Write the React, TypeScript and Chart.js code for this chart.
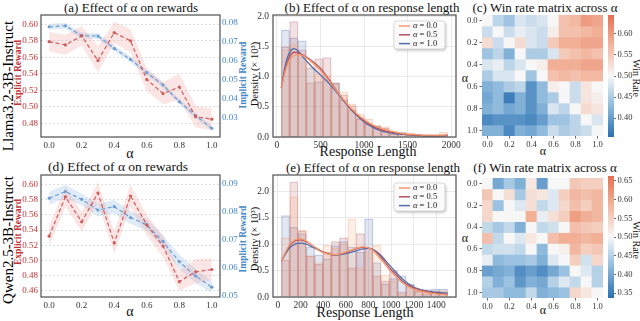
import React, { useEffect, useRef } from 'react';
import { Chart, registerables } from 'chart.js';

Chart.register(...registerables);

const SERIF = '"Liberation Serif", "Times New Roman", "DejaVu Serif", serif';
Chart.defaults.font.family = SERIF;
Chart.defaults.color = '#333';

// ---------------- data ----------------
const alphas = [0, 0.1, 0.2, 0.3, 0.4, 0.5, 0.6, 0.7, 0.8, 0.9, 1.0];
const alphaLabels = ['0.0', '0.1', '0.2', '0.3', '0.4', '0.5', '0.6', '0.7', '0.8', '0.9', '1.0'];
const alphaTickValues = [0, 0.2, 0.4, 0.6, 0.8, 1.0];

// (a) Llama rewards
const llamaExplicit = [0.579, 0.575, 0.586, 0.556, 0.590, 0.580, 0.533, 0.516, 0.524, 0.488, 0.485];
const llamaExplicitUpper = [0.591, 0.587, 0.598, 0.573, 0.603, 0.594, 0.547, 0.530, 0.540, 0.501, 0.498];
const llamaExplicitLower = [0.567, 0.563, 0.574, 0.542, 0.577, 0.566, 0.519, 0.503, 0.509, 0.475, 0.472];
const llamaImplicit = [0.0779, 0.0784, 0.0732, 0.0730, 0.0665, 0.0607, 0.0537, 0.0472, 0.0384, 0.0311, 0.0244];
const llamaImplicitUpper = [0.0795, 0.0799, 0.0748, 0.0746, 0.0680, 0.0622, 0.0552, 0.0487, 0.0398, 0.0325, 0.0258];
const llamaImplicitLower = [0.0763, 0.0769, 0.0716, 0.0714, 0.0650, 0.0592, 0.0522, 0.0457, 0.0370, 0.0297, 0.0230];
const llamaExplicitTicks = [0.48, 0.50, 0.52, 0.54, 0.56, 0.58, 0.60];
const llamaImplicitTicks = [0.03, 0.04, 0.05, 0.06, 0.07, 0.08];

// (d) Qwen rewards
const qwenExplicit = [0.532, 0.584, 0.551, 0.589, 0.523, 0.585, 0.547, 0.519, 0.472, 0.485, 0.488];
const qwenExplicitUpper = [0.545, 0.597, 0.564, 0.603, 0.538, 0.600, 0.560, 0.533, 0.486, 0.502, 0.503];
const qwenExplicitLower = [0.519, 0.571, 0.538, 0.576, 0.509, 0.571, 0.533, 0.504, 0.460, 0.470, 0.474];
const qwenImplicit = [0.0849, 0.0873, 0.0845, 0.0807, 0.0819, 0.0780, 0.0754, 0.0694, 0.0622, 0.0571, 0.0531];
const qwenImplicitUpper = [0.0872, 0.0896, 0.0866, 0.0830, 0.0843, 0.0803, 0.0775, 0.0716, 0.0648, 0.0596, 0.0553];
const qwenImplicitLower = [0.0826, 0.0850, 0.0824, 0.0784, 0.0795, 0.0757, 0.0733, 0.0672, 0.0596, 0.0546, 0.0509];
const qwenExplicitTicks = [0.46, 0.48, 0.50, 0.52, 0.54, 0.56, 0.58, 0.60];
const qwenImplicitTicks = [0.05, 0.06, 0.07, 0.08, 0.09];

// (b) Llama response length histograms (density x 10^3)
const llamaBinCenters = [98, 193, 289, 384, 480, 575, 671, 766, 862, 957, 1053, 1148, 1244, 1339, 1435, 1530, 1626, 1721, 1817, 1912];
const llamaHistA00 = [1.45, 1.55, 1.38, 1.25, 1.05, 1.02, 0.88, 0.75, 0.55, 0.38, 0.30, 0.18, 0.17, 0.10, 0.06, 0.07, 0.05, 0.03, 0.02, 0.08];
const llamaHistA05 = [1.50, 1.92, 1.45, 0.90, 1.30, 1.32, 0.90, 0.70, 0.52, 0.30, 0.22, 0.19, 0.15, 0.07, 0.05, 0.04, 0.03, 0.02, 0.01, 0.03];
const llamaHistA10 = [1.78, 1.65, 1.60, 1.15, 0.92, 0.95, 0.90, 0.62, 0.45, 0.32, 0.22, 0.18, 0.08, 0.05, 0.08, 0.04, 0.02, 0.02, 0.01, 0.03];
const llamaKdeX = [50, 100, 150, 200, 250, 300, 400, 500, 600, 700, 800, 900, 1000, 1100, 1200, 1300, 1400, 1500, 1600, 1700, 1800, 1900, 1960];
const llamaKdeA00 = [0.82, 1.12, 1.30, 1.36, 1.37, 1.35, 1.25, 1.11, 0.93, 0.74, 0.56, 0.41, 0.29, 0.20, 0.14, 0.10, 0.07, 0.05, 0.04, 0.03, 0.03, 0.03, 0.04];
const llamaKdeA05 = [0.82, 1.15, 1.35, 1.41, 1.40, 1.36, 1.27, 1.14, 0.95, 0.74, 0.55, 0.39, 0.27, 0.18, 0.12, 0.08, 0.06, 0.04, 0.03, 0.02, 0.02, 0.02, 0.02];
const llamaKdeA10 = [0.82, 1.22, 1.42, 1.47, 1.42, 1.33, 1.17, 1.03, 0.89, 0.72, 0.54, 0.38, 0.25, 0.16, 0.10, 0.07, 0.05, 0.04, 0.03, 0.02, 0.02, 0.02, 0.03];
const llamaLengthTicks = [0, 500, 1000, 1500, 2000];
const llamaDensityTicks = [0, 0.5, 1.0, 1.5, 2.0];

// (e) Qwen response length histograms
const qwenBinCenters = [67, 140, 214, 287, 361, 434, 508, 581, 655, 728, 802, 875, 949, 1022, 1096, 1169, 1243, 1316, 1390, 1463];
const qwenHistA00 = [1.12, 1.89, 1.27, 0.78, 0.65, 0.98, 0.92, 1.00, 1.48, 0.55, 0.85, 0.98, 0.42, 0.30, 0.06, 0.20, 0.10, 0.08, 0.12, 0.12];
const qwenHistA05 = [0.70, 2.18, 1.25, 0.78, 0.62, 0.85, 1.05, 1.12, 0.55, 1.20, 0.92, 0.40, 0.30, 0.50, 0.10, 0.22, 0.12, 0.05, 0.10, 0.10];
const qwenHistA10 = [1.54, 1.32, 1.20, 0.95, 0.80, 0.72, 0.97, 1.05, 0.95, 0.85, 1.48, 0.65, 0.25, 0.35, 0.40, 0.25, 0.12, 0.14, 0.15, 0.15];
const qwenKdeX = [30, 100, 150, 200, 250, 300, 400, 500, 600, 700, 750, 800, 850, 900, 1000, 1100, 1200, 1300, 1400, 1500];
const qwenKdeA00 = [0.68, 0.98, 1.08, 1.10, 1.06, 0.98, 0.84, 0.80, 0.85, 0.93, 0.95, 0.93, 0.86, 0.74, 0.48, 0.27, 0.15, 0.09, 0.06, 0.04];
const qwenKdeA05 = [0.68, 0.96, 1.06, 1.08, 1.05, 0.98, 0.85, 0.80, 0.84, 0.92, 0.94, 0.93, 0.88, 0.78, 0.52, 0.30, 0.17, 0.11, 0.07, 0.05];
const qwenKdeA10 = [0.68, 0.92, 1.00, 1.02, 1.00, 0.95, 0.85, 0.79, 0.82, 0.88, 0.91, 0.92, 0.89, 0.81, 0.57, 0.34, 0.19, 0.12, 0.09, 0.07];
const qwenLengthTicks = [0, 200, 400, 600, 800, 1000, 1200, 1400];
const qwenDensityTicks = [0, 0.5, 1.0, 1.5, 2.0];

const legendLabels = ['0.0', '0.5', '1.0'];

// (c) Llama win-rate matrix (rows: alpha 0.0 .. 1.0)
const winRateLlama = [
  [0.50, 0.46, 0.44, 0.48, 0.47, 0.48, 0.50, 0.56, 0.57, 0.60, 0.59],
  [0.47, 0.50, 0.47, 0.49, 0.48, 0.47, 0.51, 0.56, 0.56, 0.57, 0.58],
  [0.53, 0.47, 0.50, 0.53, 0.48, 0.47, 0.55, 0.58, 0.58, 0.59, 0.59],
  [0.44, 0.46, 0.42, 0.50, 0.45, 0.45, 0.48, 0.55, 0.56, 0.57, 0.56],
  [0.48, 0.49, 0.46, 0.48, 0.50, 0.51, 0.58, 0.58, 0.58, 0.59, 0.59],
  [0.45, 0.48, 0.48, 0.50, 0.44, 0.50, 0.56, 0.57, 0.56, 0.57, 0.57],
  [0.42, 0.43, 0.45, 0.46, 0.39, 0.43, 0.51, 0.50, 0.47, 0.52, 0.50],
  [0.41, 0.43, 0.37, 0.42, 0.39, 0.43, 0.45, 0.50, 0.47, 0.52, 0.51],
  [0.42, 0.43, 0.41, 0.42, 0.39, 0.42, 0.48, 0.46, 0.50, 0.53, 0.52],
  [0.38, 0.39, 0.39, 0.39, 0.38, 0.40, 0.44, 0.44, 0.46, 0.50, 0.48],
  [0.42, 0.42, 0.38, 0.42, 0.41, 0.43, 0.47, 0.45, 0.46, 0.47, 0.50],
];
const llamaCbarRange = [0.355, 0.645];
const llamaCbarTicks = [0.40, 0.45, 0.50, 0.55, 0.60];

// (f) Qwen win-rate matrix
const winRateQwen = [
  [0.50, 0.40, 0.44, 0.41, 0.52, 0.39, 0.50, 0.50, 0.56, 0.55, 0.55],
  [0.56, 0.50, 0.53, 0.44, 0.53, 0.52, 0.48, 0.55, 0.58, 0.57, 0.58],
  [0.54, 0.43, 0.50, 0.48, 0.53, 0.46, 0.48, 0.54, 0.57, 0.55, 0.58],
  [0.54, 0.50, 0.50, 0.50, 0.59, 0.49, 0.53, 0.55, 0.61, 0.59, 0.58],
  [0.46, 0.44, 0.46, 0.41, 0.50, 0.46, 0.47, 0.50, 0.57, 0.56, 0.55],
  [0.57, 0.46, 0.50, 0.48, 0.52, 0.50, 0.57, 0.59, 0.59, 0.58, 0.59],
  [0.46, 0.47, 0.47, 0.46, 0.50, 0.42, 0.50, 0.51, 0.58, 0.55, 0.56],
  [0.49, 0.42, 0.43, 0.43, 0.44, 0.41, 0.48, 0.50, 0.55, 0.47, 0.54],
  [0.39, 0.40, 0.41, 0.37, 0.39, 0.37, 0.40, 0.43, 0.50, 0.48, 0.45],
  [0.45, 0.41, 0.43, 0.38, 0.41, 0.40, 0.45, 0.48, 0.46, 0.50, 0.45],
  [0.44, 0.44, 0.42, 0.42, 0.46, 0.41, 0.42, 0.43, 0.54, 0.52, 0.50],
];
const qwenCbarRange = [0.337, 0.663];
const qwenCbarTicks = [0.35, 0.40, 0.45, 0.50, 0.55, 0.60, 0.65];

// ---------------- styles ----------------
const RED_LINE = 'rgb(208,92,92)';
const RED_BAND = 'rgba(240,150,150,0.25)';
const RED_TEXT = 'rgb(196,52,52)';
const BLUE_LINE = 'rgb(110,158,212)';
const BLUE_BAND = 'rgba(150,190,230,0.3)';
const BLUE_TEXT = 'rgb(66,136,200)';
const HIST_COLORS = [[244, 152, 108], [178, 82, 96], [84, 110, 172]];

const CMAP_STOPS: [number, number[]][] = [
  [0, [42, 112, 178]],
  [0.25, [140, 185, 220]],
  [0.5, [247, 247, 247]],
  [0.75, [242, 182, 158]],
  [1, [228, 112, 82]],
];
function cmapColor(t: number) {
  const tt = Math.max(0, Math.min(1, t));
  for (let i = 0; i < CMAP_STOPS.length - 1; i++) {
    const [t0, c0] = CMAP_STOPS[i];
    const [t1, c1] = CMAP_STOPS[i + 1];
    if (tt <= t1) {
      const f = (tt - t0) / (t1 - t0);
      const c = c0.map((v, k) => Math.round(v + (c1[k] - v) * f));
      return `rgb(${c[0]},${c[1]},${c[2]})`;
    }
  }
  const c = CMAP_STOPS[CMAP_STOPS.length - 1][1];
  return `rgb(${c[0]},${c[1]},${c[2]})`;
}
const rgba = (c: number[], a: number) => `rgba(${c[0]},${c[1]},${c[2]},${a})`;

// ---------------- plugins ----------------
const framePlugin = {
  id: 'frame',
  afterDatasetsDraw(chart: any, _a: any, opts: any) {
    if (!opts || !opts.color) return;
    const { ctx, chartArea: a } = chart;
    ctx.save();
    ctx.strokeStyle = opts.color;
    ctx.lineWidth = opts.width || 1;
    ctx.strokeRect(a.left, a.top, a.right - a.left, a.bottom - a.top);
    ctx.restore();
  },
};

function roundRectPath(ctx: CanvasRenderingContext2D, x: number, y: number, w: number, h: number, r: number) {
  ctx.beginPath();
  ctx.moveTo(x + r, y);
  ctx.lineTo(x + w - r, y);
  ctx.quadraticCurveTo(x + w, y, x + w, y + r);
  ctx.lineTo(x + w, y + h - r);
  ctx.quadraticCurveTo(x + w, y + h, x + w - r, y + h);
  ctx.lineTo(x + r, y + h);
  ctx.quadraticCurveTo(x, y + h, x, y + h - r);
  ctx.lineTo(x, y + r);
  ctx.quadraticCurveTo(x, y, x + r, y);
  ctx.closePath();
}

const histLegendPlugin = {
  id: 'histLegend',
  afterDraw(chart: any, _a: any, opts: any) {
    if (!opts || !opts.labels) return;
    const { ctx, chartArea: a } = chart;
    const w = 51, h = 28;
    const x = a.right - 62, y = a.top + opts.offsetY;
    ctx.save();
    ctx.shadowColor = 'rgba(0,0,0,0.28)';
    ctx.shadowBlur = 3;
    ctx.shadowOffsetX = 1;
    ctx.shadowOffsetY = 1.5;
    ctx.fillStyle = 'rgba(255,255,255,0.92)';
    roundRectPath(ctx, x, y, w, h, 3);
    ctx.fill();
    ctx.shadowColor = 'transparent';
    ctx.strokeStyle = '#cfcfcf';
    ctx.lineWidth = 0.8;
    roundRectPath(ctx, x, y, w, h, 3);
    ctx.stroke();
    opts.labels.forEach((lab: string, i: number) => {
      const cy = y + 5 + i * 8.8;
      ctx.strokeStyle = `rgb(${opts.colors[i].join(',')})`;
      ctx.lineWidth = 1.5;
      ctx.beginPath();
      ctx.moveTo(x + 5, cy);
      ctx.lineTo(x + 16, cy);
      ctx.stroke();
      ctx.fillStyle = '#222';
      ctx.textBaseline = 'middle';
      ctx.textAlign = 'left';
      ctx.font = `italic 8.5px ${SERIF}`;
      ctx.fillText('α', x + 19, cy);
      const aw = ctx.measureText('α').width;
      ctx.font = `8.5px ${SERIF}`;
      ctx.fillText(' = ' + lab, x + 19 + aw, cy);
    });
    ctx.restore();
  },
};

// ---------------- configs ----------------
const fixedTicks = (vals: number[]) => (s: any) => {
  s.ticks = vals.map((v) => ({ value: v }));
};

function rewardConfig(p: any) {
  const pts = (arr: number[]) => arr.map((v, i) => ({ x: alphas[i], y: v }));
  const tickFont = { family: SERIF, size: 9 };
  const band = (arr: number[], axis: string, fill: any, bg?: string) => ({
    data: pts(arr), yAxisID: axis, borderWidth: 0, pointRadius: 0, fill, backgroundColor: bg || 'transparent', borderColor: 'transparent',
  });
  const line = (arr: number[], axis: string, color: string) => ({
    data: pts(arr), yAxisID: axis, borderColor: color, borderWidth: 1.2, borderDash: [4, 2.5],
    pointRadius: 1.6, pointBackgroundColor: color, pointBorderWidth: 0, fill: false,
  });
  return {
    type: 'line',
    data: {
      datasets: [
        line(p.exp, 'y', RED_LINE),
        line(p.imp, 'y2', BLUE_LINE),
        band(p.expUpper, 'y', '+1', RED_BAND),
        band(p.expLower, 'y', false),
        band(p.impUpper, 'y2', '+1', BLUE_BAND),
        band(p.impLower, 'y2', false),
      ],
    },
    plugins: [framePlugin],
    options: {
      animation: false,
      responsive: false,
      devicePixelRatio: 1,
      layout: { padding: { left: 0, top: 15, right: 0, bottom: 0 } },
      plugins: { legend: { display: false }, tooltip: { enabled: false }, frame: { color: '#5c5c5c', width: 1.3 } },
      scales: {
        x: {
          type: 'linear', min: -0.05, max: 1.05,
          afterBuildTicks: fixedTicks(alphaTickValues),
          afterFit: (s: any) => { s.height = 23; },
          grid: { display: false, drawTicks: false },
          border: { display: false },
          ticks: { font: tickFont, color: '#333', padding: 3, maxRotation: 0, callback: (v: any) => Number(v).toFixed(1) },
        },
        y: {
          type: 'linear', position: 'left', min: p.yMin, max: p.yMax,
          afterBuildTicks: fixedTicks(p.yTicks),
          afterFit: (s: any) => { s.width = 41; },
          grid: { color: '#d6d6d6', lineWidth: 0.8, drawTicks: false },
          border: { display: false, dash: [2, 2] },
          ticks: { font: tickFont, color: RED_TEXT, padding: 3, callback: (v: any) => Number(v).toFixed(2) },
        },
        y2: {
          type: 'linear', position: 'right', min: p.y2Min, max: p.y2Max,
          afterBuildTicks: fixedTicks(p.y2Ticks),
          afterFit: (s: any) => { s.width = 20; },
          grid: { display: false, drawTicks: false },
          border: { display: false },
          ticks: { font: tickFont, color: BLUE_TEXT, padding: 2, callback: (v: any) => Number(v).toFixed(2) },
        },
      },
    },
  };
}

function histConfig(p: any) {
  const bar = (h: number[], c: number[]) => ({
    type: 'bar',
    data: h.map((v, i) => ({ x: p.centers[i], y: v })),
    backgroundColor: rgba(c, 0.17),
    borderColor: rgba(c, 0.3),
    borderWidth: 0.6,
    grouped: false,
    barPercentage: 1,
    categoryPercentage: 1,
    order: 2,
  });
  const kde = (ys: number[], c: number[]) => ({
    type: 'line',
    data: ys.map((v, i) => ({ x: p.kdeX[i], y: v })),
    borderColor: `rgb(${c.join(',')})`,
    borderWidth: 1.3,
    pointRadius: 0,
    cubicInterpolationMode: 'monotone',
    fill: false,
    order: 0,
  });
  const tickFont = { family: SERIF, size: 9.5 };
  return {
    type: 'bar',
    data: {
      datasets: [
        bar(p.h00, HIST_COLORS[0]),
        bar(p.h05, HIST_COLORS[1]),
        bar(p.h10, HIST_COLORS[2]),
        kde(p.k00, HIST_COLORS[0]),
        kde(p.k05, HIST_COLORS[1]),
        kde(p.k10, HIST_COLORS[2]),
      ],
    },
    plugins: [framePlugin, histLegendPlugin],
    options: {
      animation: false,
      responsive: false,
      devicePixelRatio: 1,
      layout: { padding: { left: 0, top: 15, right: 9, bottom: 0 } },
      plugins: {
        legend: { display: false }, tooltip: { enabled: false },
        frame: { color: '#5c5c5c', width: 1.3 },
        histLegend: { labels: legendLabels, colors: HIST_COLORS, offsetY: p.legendOffset },
      },
      scales: {
        x: {
          type: 'linear', min: p.xMin, max: p.xMax, offset: false,
          afterBuildTicks: fixedTicks(p.xTicks),
          afterFit: (s: any) => { s.height = 23; },
          grid: { color: '#e4e4e4', lineWidth: 0.8, drawTicks: false, offset: false },
          border: { display: false },
          ticks: { font: tickFont, color: '#333', padding: 3, maxRotation: 0, callback: (v: any) => String(v) },
        },
        y: {
          type: 'linear', min: 0, max: p.yMax,
          afterBuildTicks: fixedTicks(p.yTicks),
          afterFit: (s: any) => { s.width = 23; },
          grid: { color: '#e4e4e4', lineWidth: 0.8, drawTicks: false },
          border: { display: false },
          ticks: { font: tickFont, color: '#333', padding: 4, callback: (v: any) => Number(v).toFixed(1) },
        },
      },
    },
  };
}

function heatConfig(matrix: number[][], range: number[], padTop: number, xHeight: number) {
  const [vmin, vmax] = range;
  const tickFont = { family: SERIF, size: 8.5 };
  return {
    type: 'bar',
    data: {
      labels: alphaLabels,
      datasets: matrix.map((row, r) => ({
        data: row.map(() => [r, r + 1]),
        backgroundColor: row.map((v) => cmapColor((v - vmin) / (vmax - vmin))),
        borderWidth: 0,
        grouped: false,
        barPercentage: 1,
        categoryPercentage: 1,
      })),
    },
    options: {
      animation: false,
      responsive: false,
      devicePixelRatio: 1,
      layout: { padding: { left: 0, top: padTop, right: 2, bottom: 0 } },
      plugins: { legend: { display: false }, tooltip: { enabled: false } },
      scales: {
        x: {
          type: 'category', offset: true,
          afterBuildTicks: (s: any) => { s.ticks = s.ticks.filter((_t: any, i: number) => i % 2 === 0); },
          afterFit: (s: any) => { s.height = xHeight; },
          grid: { display: true, drawOnChartArea: false, drawTicks: true, tickLength: 2.5, offset: false, color: '#444', tickColor: '#444', tickWidth: 0.8 },
          border: { display: false },
          ticks: { font: tickFont, color: '#333', padding: 1, maxRotation: 0, autoSkip: false },
        },
        y: {
          type: 'linear', min: 0, max: 11, reverse: true,
          afterBuildTicks: fixedTicks([0.5, 2.5, 4.5, 6.5, 8.5, 10.5]),
          afterFit: (s: any) => { s.width = 27; },
          grid: { display: true, drawOnChartArea: false, drawTicks: true, tickLength: 2.5, color: '#444', tickColor: '#444', tickWidth: 0.8 },
          border: { display: false },
          ticks: { font: tickFont, color: '#333', padding: 2, callback: (v: any) => alphaLabels[Math.round(Number(v) - 0.5)] },
        },
      },
    },
  };
}

function cbarConfig(range: number[], ticks: number[], padTop: number, padBottom: number) {
  const [vmin, vmax] = range;
  return {
    type: 'bar',
    data: {
      labels: [''],
      datasets: [{
        data: [[vmin, vmax]],
        backgroundColor: (c: any) => {
          const area = c.chart.chartArea;
          if (!area) return 'transparent';
          const g = c.chart.ctx.createLinearGradient(0, area.bottom, 0, area.top);
          CMAP_STOPS.forEach(([t]) => g.addColorStop(t, cmapColor(t)));
          return g;
        },
        borderWidth: 0,
        barPercentage: 1,
        categoryPercentage: 1,
      }],
    },
    options: {
      animation: false,
      responsive: false,
      devicePixelRatio: 1,
      layout: { padding: { left: 8, top: padTop, right: 0, bottom: padBottom } },
      plugins: { legend: { display: false }, tooltip: { enabled: false } },
      scales: {
        x: { display: false },
        y: {
          type: 'linear', position: 'right', min: vmin, max: vmax,
          afterBuildTicks: fixedTicks(ticks),
          afterFit: (s: any) => { s.width = 26; },
          grid: { display: true, drawOnChartArea: false, drawTicks: true, tickLength: 2, color: '#444', tickColor: '#444', tickWidth: 0.8 },
          border: { display: false },
          ticks: { font: { family: SERIF, size: 8.5 }, color: '#333', padding: 1.5, callback: (v: any) => Number(v).toFixed(2) },
        },
      },
    },
  };
}

// ---------------- components ----------------
function ChartCanvas({ left, top, width, height, make }: any) {
  const ref = useRef<HTMLCanvasElement>(null);
  useEffect(() => {
    const chart = new Chart(ref.current as HTMLCanvasElement, make() as any);
    return () => chart.destroy();
  }, []);
  return (
    <canvas
      ref={ref}
      width={width}
      height={height}
      style={{ position: 'absolute', left, top, width, height }}
    />
  );
}

function Label({ x, y, text, size = 12, rot = 0, color = '#111', weight = 'normal' }: any) {
  return (
    <div
      style={{
        position: 'absolute', left: x, top: y,
        transform: `translate(-50%, -50%) rotate(${rot}deg)`,
        whiteSpace: 'nowrap', fontFamily: SERIF, fontSize: size, color, fontWeight: weight, lineHeight: 1,
      }}
    >
      {text}
    </div>
  );
}

export default function App() {
  return (
    <div style={{ position: 'absolute', left: 0, top: 0, width: 640, height: 321, background: '#fff', overflow: 'hidden' }}>
      {/* titles */}
      <Label x={131} y={7} text="(a) Effect of α on rewards" size={13} />
      <Label x={118} y={167} text="(d) Effect of α on rewards" size={13.5} />
      <Label x={372} y={7} text="(b) Effect of α on response length" size={13} />
      <Label x={373} y={167} text="(e) Effect of α on response length" size={13} />
      <Label x={545} y={7} text="(c) Win rate matrix across α" size={13} />
      <Label x={545} y={167} text="(f) Win rate matrix across α" size={13} />

      {/* row labels */}
      <Label x={8} y={86} text="Llama3.2-3B-Instruct" size={15} rot={-90} color="#000" />
      <Label x={8} y={240} text="Qwen2.5-3B-Instruct" size={15} rot={-90} color="#000" />

      {/* reward axis titles */}
      <Label x={18.5} y={73} text="Explicit Reward" size={9.5} rot={-90} color={RED_TEXT} weight="bold" />
      <Label x={18.5} y={232} text="Explicit Reward" size={9.5} rot={-90} color={RED_TEXT} weight="bold" />
      <Label x={244} y={75} text="Implicit Reward" size={9.5} rot={-90} color={BLUE_TEXT} weight="bold" />
      <Label x={244} y={239} text="Implicit Reward" size={9.5} rot={-90} color={BLUE_TEXT} weight="bold" />
      <Label x={130} y={154} text="α" size={14} />
      <Label x={130} y={312} text="α" size={14} />

      {/* histogram axis titles */}
      <Label x={255} y={74} text="Density (× 10³)" size={10.5} rot={-90} />
      <Label x={255} y={239} text="Density (× 10³)" size={10.5} rot={-90} />
      <Label x={368} y={152} text="Response Length" size={14} />
      <Label x={365} y={313} text="Response Length" size={14} />

      {/* heatmap axis titles */}
      <Label x={465} y={78} text="α" size={12} />
      <Label x={465} y={238} text="α" size={12} />
      <Label x={543} y={151} text="α" size={12} />
      <Label x={543} y={310} text="α" size={12} />
      <Label x={636} y={78} text="Win Rate" size={10} rot={90} />
      <Label x={636} y={240} text="Win Rate" size={10} rot={90} />

      <ChartCanvas left={0} top={0} width={240} height={160} make={() => rewardConfig({
        exp: llamaExplicit, expUpper: llamaExplicitUpper, expLower: llamaExplicitLower,
        imp: llamaImplicit, impUpper: llamaImplicitUpper, impLower: llamaImplicitLower,
        yMin: 0.4634, yMax: 0.6113, yTicks: llamaExplicitTicks,
        y2Min: 0.0198, y2Max: 0.0841, y2Ticks: llamaImplicitTicks,
      })} />
      <ChartCanvas left={0} top={160} width={240} height={160} make={() => rewardConfig({
        exp: qwenExplicit, expUpper: qwenExplicitUpper, expLower: qwenExplicitLower,
        imp: qwenImplicit, impUpper: qwenImplicitUpper, impLower: qwenImplicitLower,
        yMin: 0.4517, yMax: 0.6128, yTicks: qwenExplicitTicks,
        y2Min: 0.0496, y2Max: 0.0932, y2Ticks: qwenImplicitTicks,
      })} />

      <ChartCanvas left={250} top={0} width={215} height={160} make={() => histConfig({
        centers: llamaBinCenters, h00: llamaHistA00, h05: llamaHistA05, h10: llamaHistA10,
        kdeX: llamaKdeX, k00: llamaKdeA00, k05: llamaKdeA05, k10: llamaKdeA10,
        xMin: -45.5, xMax: 2055.5, xTicks: llamaLengthTicks, yMax: 2.03, yTicks: llamaDensityTicks, legendOffset: 6,
      })} />
      <ChartCanvas left={250} top={160} width={215} height={160} make={() => histConfig({
        centers: qwenBinCenters, h00: qwenHistA00, h05: qwenHistA05, h10: qwenHistA10,
        kdeX: qwenKdeX, k00: qwenKdeA00, k05: qwenKdeA05, k10: qwenKdeA10,
        xMin: -44, xMax: 1574, xTicks: qwenLengthTicks, yMax: 2.31, yTicks: qwenDensityTicks, legendOffset: 8,
      })} />

      <ChartCanvas left={455} top={0} width={150} height={160} make={() => heatConfig(winRateLlama, llamaCbarRange, 15, 24)} />
      <ChartCanvas left={455} top={160} width={150} height={160} make={() => heatConfig(winRateQwen, qwenCbarRange, 18, 22)} />

      <ChartCanvas left={600} top={0} width={40} height={160} make={() => cbarConfig(llamaCbarRange, llamaCbarTicks, 15, 23)} />
      <ChartCanvas left={600} top={160} width={40} height={160} make={() => cbarConfig(qwenCbarRange, qwenCbarTicks, 16, 22)} />
    </div>
  );
}
